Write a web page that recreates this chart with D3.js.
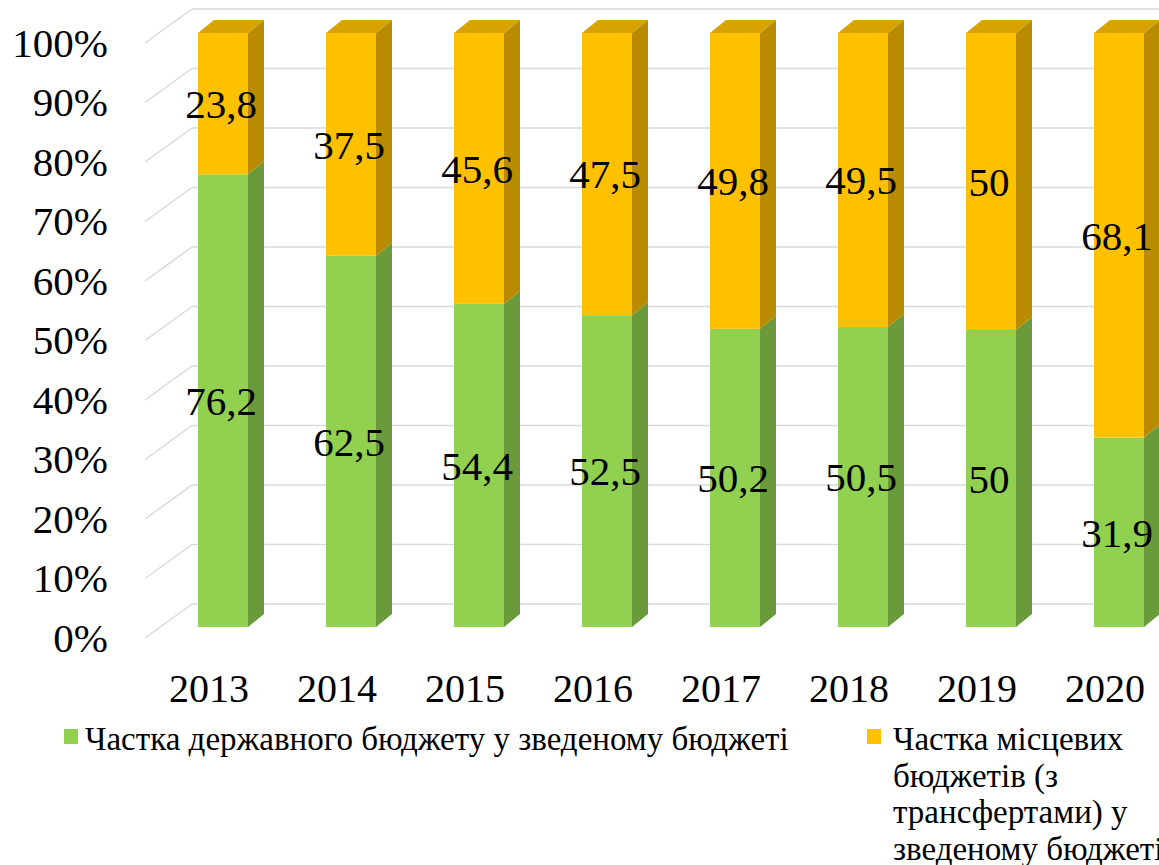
<!DOCTYPE html>
<html>
<head>
<meta charset="utf-8">
<script src="https://cdn.jsdelivr.net/npm/d3@7"></script>
</head>
<body style="margin:0">
<script>
        const years = ['2013', '2014', '2015', '2016', '2017', '2018', '2019', '2020']
        const stateShare = [76.2, 62.5, 54.4, 52.5, 50.2, 50.5, 50, 31.9]
        const localShare = [23.8, 37.5, 45.6, 47.5, 49.8, 49.5, 50, 68.1]
        const ticks = [0, 10, 20, 30, 40, 50, 60, 70, 80, 90, 100]
        const seriesNames = ['Частка державного бюджету у зведеному бюджеті',
            'Частка місцевих бюджетів (з трансфертами) у зведеному бюджеті']
        const localLegendLines = ['Частка місцевих', 'бюджетів (з', 'трансфертами) у', 'зведеному бюджеті']

        const green = '#92d050', greenSide = '#6b9a3a'
        const yellow = '#ffc000', yellowSide = '#b98c00', yellowTop = '#d6a300'
        const grid = '#d9d9d9'

        let w = 1159
        let h = 865

        let svg = d3.select('body').append('svg')
            .attr('width', w)
            .attr('height', h)

        // back wall scale, the front face of the bars and the wall depth offset
        let yBack = d3.scaleLinear([0, 100], [604, 9])
        let yBar = d3.scaleLinear([0, 100], [627, 33])
        let x = d3.scalePoint(years, [223, 1119])
        const barW = 50, dx = 16, dy = -13
        const wallDx = 47, wallDy = 34

        // gridlines on the back wall and the left wall
        svg.append('g').selectAll('line')
            .data(ticks)
            .enter().append('line')
                .attr('x1', 192).attr('x2', w)
                .attr('y1', d => yBack(d)).attr('y2', d => yBack(d))
                .attr('stroke', grid).attr('stroke-width', 1.5)

        svg.append('g').selectAll('line')
            .data(ticks)
            .enter().append('line')
                .attr('x1', 192 - wallDx).attr('x2', 192)
                .attr('y1', d => yBack(d) + wallDy).attr('y2', d => yBack(d))
                .attr('stroke', grid).attr('stroke-width', 1.5)

        let dataset = years.map((y, i) => ({
            year: y,
            segs: [
                {y0: 0, y1: stateShare[i], v: stateShare[i], front: green, side: greenSide},
                {y0: stateShare[i], y1: 100, v: localShare[i], front: yellow, side: yellowSide}
            ]
        }))

        let bars = svg.append('g').selectAll('g')
            .data(dataset)
            .enter().append('g')

        bars.each(function(d) {
            let g = d3.select(this)
            let xl = x(d.year) - barW / 2, xr = x(d.year) + barW / 2
            d.segs.forEach(s => {
                g.append('rect')
                    .attr('x', xl).attr('y', yBar(s.y1))
                    .attr('width', barW).attr('height', yBar(s.y0) - yBar(s.y1))
                    .attr('fill', s.front)
                g.append('path')
                    .attr('d', `M${xr},${yBar(s.y0)}L${xr + dx},${yBar(s.y0) + dy}L${xr + dx},${yBar(s.y1) + dy}L${xr},${yBar(s.y1)}Z`)
                    .attr('fill', s.side)
            })
            let top = yBar(100)
            g.append('path')
                .attr('d', `M${xl},${top}L${xl + dx},${top + dy}L${xr + dx},${top + dy}L${xr},${top}Z`)
                .attr('fill', yellowTop)
        })

        // value labels
        svg.append('g').selectAll('text')
            .data(dataset.flatMap(d => d.segs.map(s => ({year: d.year, ...s}))))
            .enter().append('text')
                .attr('x', d => x(d.year) - 2)
                .attr('y', d => yBar((d.y0 + d.y1) / 2))
                .attr('dy', '0.35em')
                .attr('text-anchor', 'middle')
                .attr('font-size', 41)
                .style('font-family', d => '"Liberation Serif"')
                .text(d => String(d.v).replace('.', ','))

        // y axis labels
        svg.append('g').selectAll('text')
            .data(ticks)
            .enter().append('text')
                .attr('x', 108)
                .attr('y', d => yBack(d) + wallDy)
                .attr('dy', '0.33em')
                .attr('text-anchor', 'end')
                .attr('font-size', 41)
                .style('font-family', d => '"Liberation Serif"')
                .text(d => d + '%')

        // x axis labels
        svg.append('g').selectAll('text')
            .data(years)
            .enter().append('text')
                .attr('x', d => x(d) - 14)
                .attr('y', 702)
                .attr('text-anchor', 'middle')
                .attr('font-size', 40)
                .style('font-family', d => '"Liberation Serif"')
                .text(d => d)

        // legend
        let legend = svg.append('g')
        legend.append('rect')
            .attr('x', 64).attr('y', 729).attr('width', 14).attr('height', 15)
            .attr('fill', green)
        legend.append('text')
            .attr('x', 85).attr('y', 750)
            .attr('font-size', 33)
            .style('font-family', '"Liberation Serif"')
            .text(seriesNames[0])

        legend.append('rect')
            .attr('x', 867).attr('y', 729).attr('width', 14).attr('height', 15)
            .attr('fill', yellow)
        legend.append('g').selectAll('text')
            .data(localLegendLines)
            .enter().append('text')
                .attr('x', 893)
                .attr('y', (d, i) => 750 + i * 36.5)
                .attr('font-size', 33)
                .style('font-family', d => '"Liberation Serif"')
                .text(d => d)
</script>
</body>
</html>
